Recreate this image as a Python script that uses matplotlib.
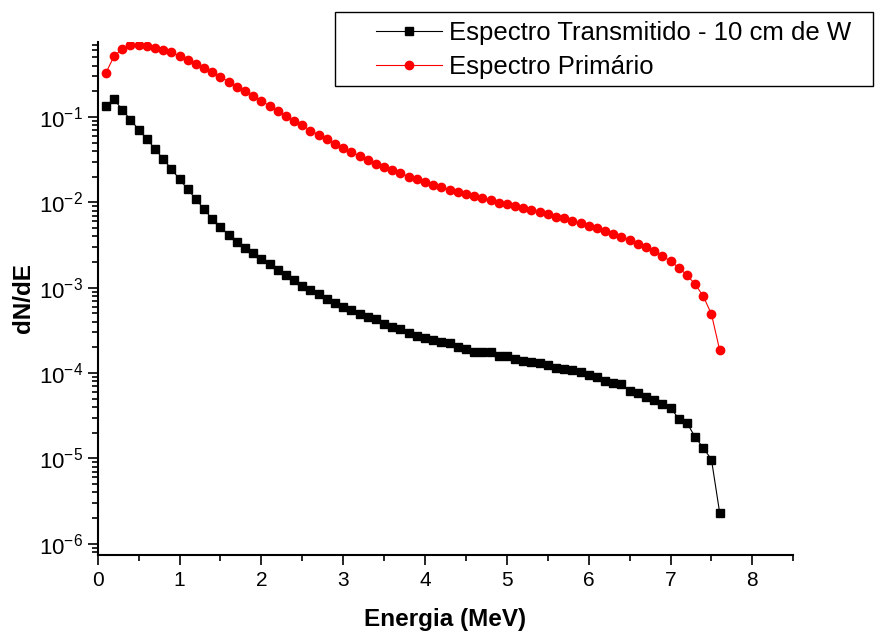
import matplotlib
matplotlib.use("Agg")
import matplotlib.pyplot as plt
from matplotlib.patches import Rectangle
from matplotlib.ticker import LogLocator, MultipleLocator, FixedLocator, NullFormatter

plt.rcParams['font.family'] = ['Liberation Sans', 'DejaVu Sans']
plt.rcParams['mathtext.fontset'] = 'custom'
plt.rcParams['mathtext.rm'] = 'Liberation Sans'
plt.rcParams['mathtext.default'] = 'regular'

energy = [round(0.1 * i, 1) for i in range(1, 77)]

transmitido = [
    0.135, 0.161, 0.121, 0.0930, 0.0710, 0.0553, 0.0422, 0.0322, 0.0246, 0.01865,
    0.01423, 0.01087, 0.00830, 0.00634, 0.00511, 0.00412, 0.00341, 0.00295, 0.00254, 0.00216,
    0.00188, 0.00162, 0.00140, 0.001224, 0.001058, 0.000935, 0.000839, 0.000746, 0.000659, 0.000601,
    0.000550, 0.000493, 0.000451, 0.000428, 0.000374, 0.000345, 0.000329, 0.000293, 0.000273, 0.000255,
    0.000243, 0.000230, 0.000224, 0.000201, 0.000192, 0.0001786, 0.0001771, 0.0001771, 0.0001603, 0.0001590,
    0.0001478, 0.0001401, 0.0001341, 0.0001306, 0.0001247, 0.0001160, 0.0001129, 0.0001099, 0.0001019, 0.0000953,
    0.0000895, 0.0000810, 0.0000761, 0.0000747, 0.0000619, 0.0000582, 0.0000531, 0.0000486, 0.0000439, 0.0000394,
    0.0000291, 0.0000261, 0.0000178, 0.0000133, 0.0000097, 0.00000232,
]

primario = [
    0.3275, 0.514, 0.626, 0.691, 0.697, 0.678, 0.648, 0.614, 0.572, 0.514,
    0.465, 0.4175, 0.375, 0.334, 0.294, 0.259, 0.2263, 0.2016, 0.1747, 0.1540,
    0.1345, 0.1176, 0.1027, 0.0898, 0.0799, 0.0691, 0.0620, 0.0548, 0.0487, 0.0434,
    0.0386, 0.0349, 0.0316, 0.0284, 0.0260, 0.0238, 0.0219, 0.0200, 0.01865, 0.01719,
    0.01598, 0.01502, 0.01408, 0.01323, 0.01244, 0.01179, 0.01117, 0.01058, 0.00992, 0.00950,
    0.00900, 0.00860, 0.00815, 0.00772, 0.00726, 0.00680, 0.00651, 0.00611, 0.00574, 0.00534,
    0.00502, 0.00466, 0.00430, 0.00397, 0.00363, 0.00328, 0.00298, 0.00268, 0.00236, 0.00204,
    0.00172, 0.00140, 0.00110, 0.000795, 0.000489, 0.000187,
]

label_t = "Espectro Transmitido - 10 cm de W"
label_p = "Espectro Primário"
x_ticks = [0, 1, 2, 3, 4, 5, 6, 7, 8]
y_exps = [-6, -5, -4, -3, -2, -1]

W, H = 875, 633
fig = plt.figure(figsize=(W / 100, H / 100), dpi=100)
ax = fig.add_axes([97.7 / W, 1 - 555 / H, (793.3 - 97.7) / W, (555 - 41.7) / H])

l1, = ax.plot(energy, transmitido, color='black', lw=0.8, marker='s', ms=5.6,
              mec='black', mfc='black', label=label_t)
l2, = ax.plot(energy, primario, color='red', lw=0.8, marker='o', ms=6.0,
              mec='red', mfc='red', label=label_p)

ax.set_yscale('log')
ax.set_xlim(0, 8.5)
ax.set_ylim(7.4e-7, 0.76)

ax.xaxis.set_major_locator(FixedLocator(x_ticks))
ax.xaxis.set_minor_locator(MultipleLocator(0.5))
ax.set_xticklabels([str(v) for v in x_ticks])

ax.yaxis.set_major_locator(FixedLocator([10.0 ** e for e in y_exps]))
ax.set_yticklabels([r'$10^{%d}$' % e for e in y_exps])
ax.yaxis.set_minor_locator(LogLocator(base=10, subs=range(2, 10), numticks=20))
ax.yaxis.set_minor_formatter(NullFormatter())

for s in ['top', 'right']:
    ax.spines[s].set_visible(False)
for s in ['left', 'bottom']:
    ax.spines[s].set_linewidth(1.5)

ax.tick_params(which='major', direction='out', length=7.5, width=1.2, labelsize=15, pad=4)
ax.tick_params(which='minor', direction='out', length=4.2, width=1.2)
ax.tick_params(axis='y', which='major', labelsize=16, pad=3)

ax.set_xlabel('Energia (MeV)', fontsize=17.5, fontweight='bold', labelpad=13)
ax.set_ylabel('dN/dE', fontsize=17.5, fontweight='bold', labelpad=3)

# legend box
fig.patches.append(Rectangle((335 / W, 1 - 86 / H), (873 - 335) / W, (86 - 12) / H,
                             transform=fig.transFigure, fill=False, ec='black', lw=1.0))
leg = fig.legend(handles=[l1, l2], loc='center left',
                 bbox_to_anchor=(376 / W, 1 - 50 / H), frameon=False,
                 fontsize=18.5, handlelength=2.55, handletextpad=0.28,
                 borderpad=0.0, borderaxespad=0.0, labelspacing=0.42)

fig.savefig('out.png', dpi=100)
